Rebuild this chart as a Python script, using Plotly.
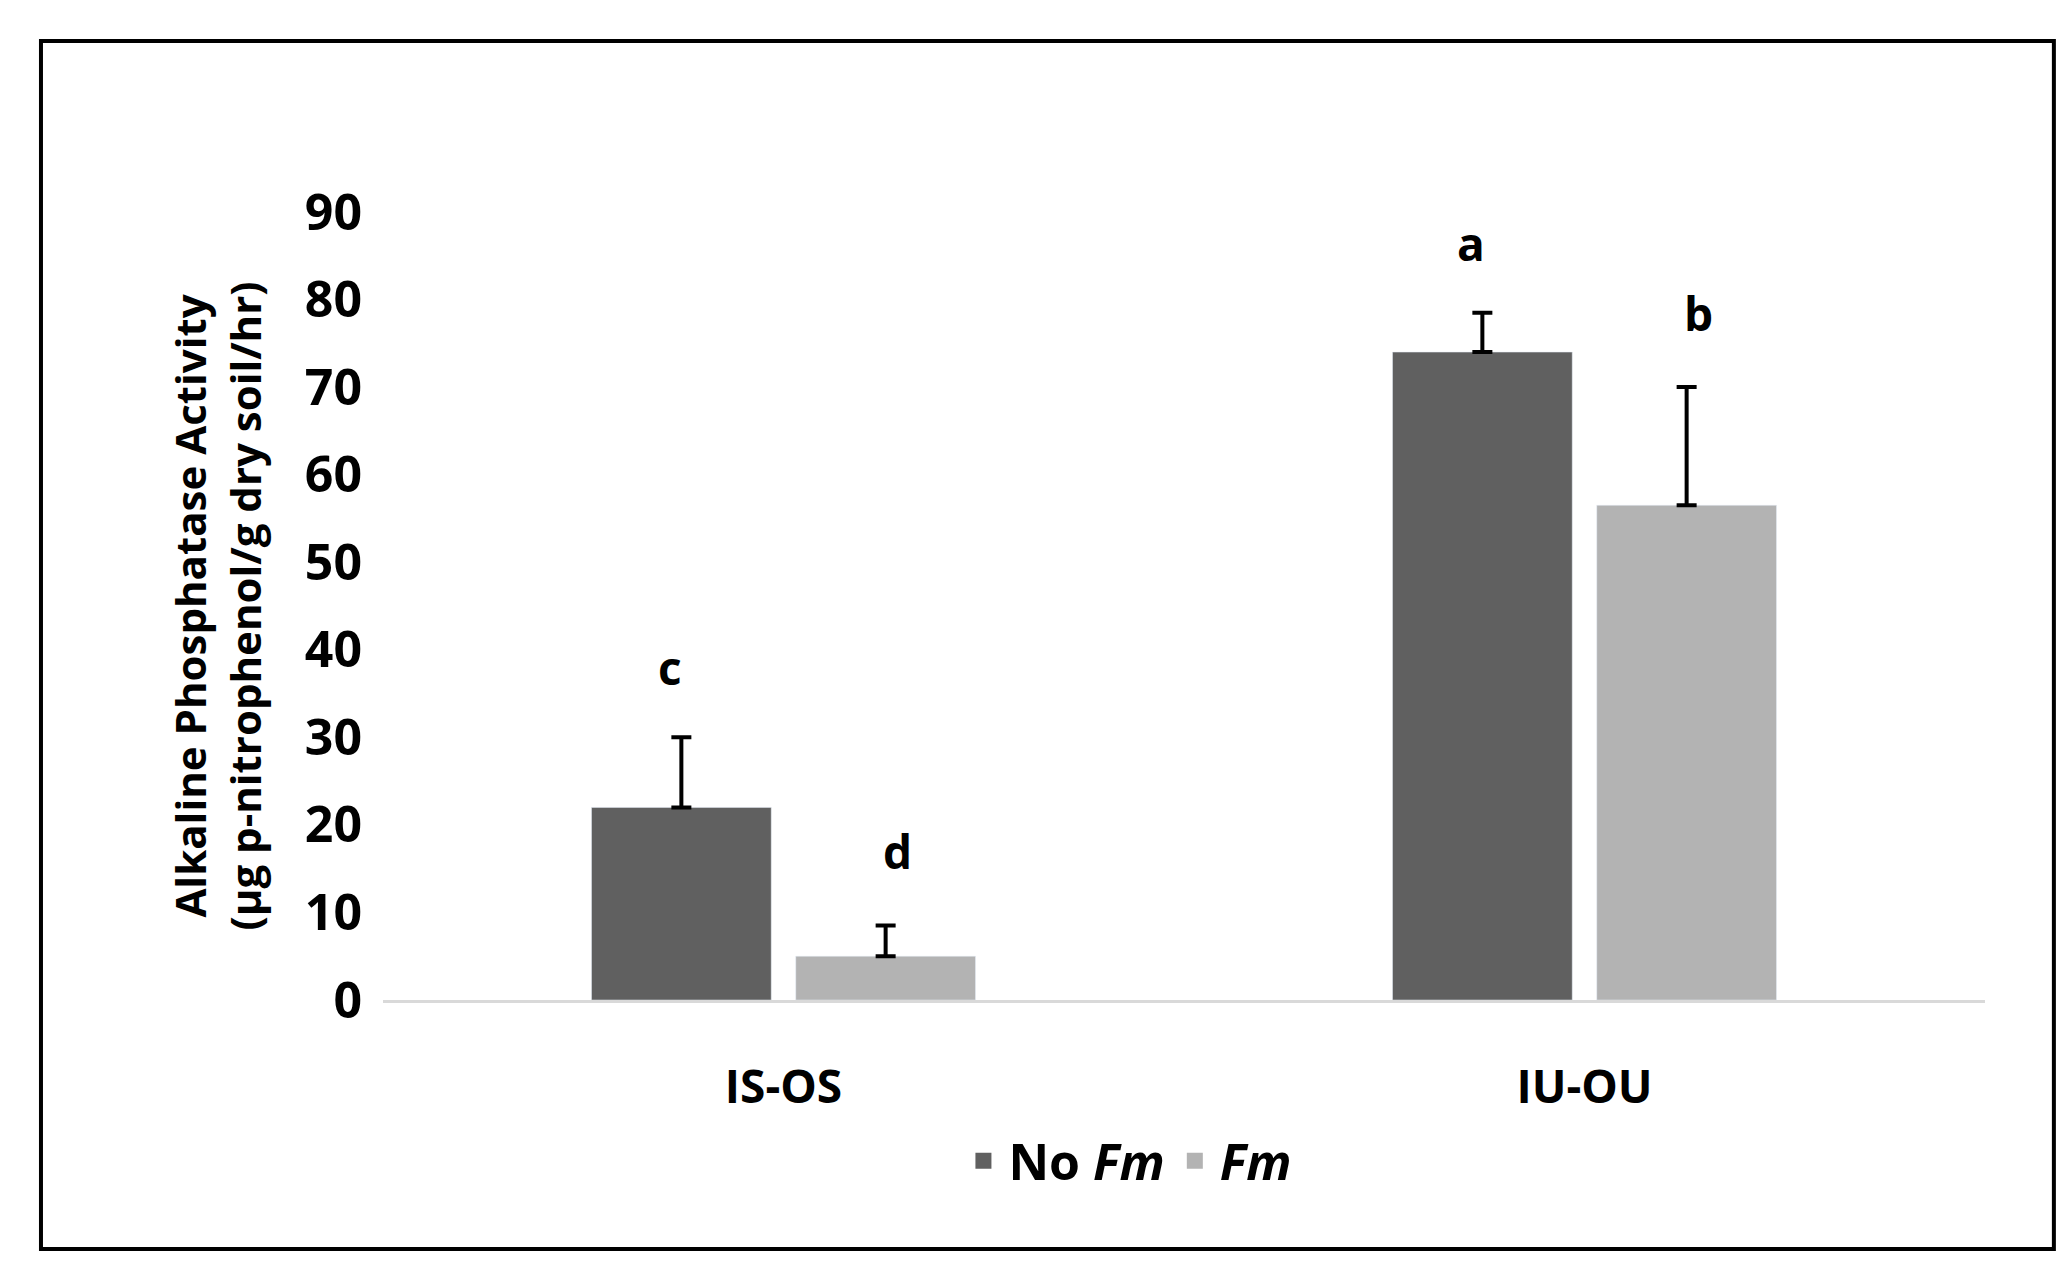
import plotly.graph_objects as go

categories = ["IS-OS", "IU-OU"]
no_fm = [22, 74]
no_fm_err = [8, 4.5]
fm = [5, 56.5]
fm_err = [3.5, 13.5]
no_fm_letters = ["c", "a"]
fm_letters = ["d", "b"]
y_ticks = [0, 10, 20, 30, 40, 50, 60, 70, 80, 90]

font = "Open Sans, sans-serif"
dark = "#606060"
light = "#b3b3b3"

fig = go.Figure()
fig.add_trace(go.Bar(
    x=categories, y=no_fm, name="No <i>Fm</i>", marker_color=dark, showlegend=False,
    error_y=dict(type="data", array=no_fm_err, arrayminus=[0, 0], symmetric=False,
                 color="black", thickness=4, width=10),
))
fig.add_trace(go.Bar(
    x=categories, y=fm, name="<i>Fm</i>", marker_color=light, showlegend=False,
    error_y=dict(type="data", array=fm_err, arrayminus=[0, 0], symmetric=False,
                 color="black", thickness=4, width=10),
))
# legend entries with larger square swatches
for name, col in [("<b>No <i>Fm</i></b>", dark), ("<b><i>Fm</i></b>", light)]:
    fig.add_trace(go.Scatter(x=[None], y=[None], mode="markers", name=name,
                             marker=dict(symbol="square", size=34, color=col)))

# significance letters above each bar
for cat, v, e, lab in zip(categories, no_fm, no_fm_err, no_fm_letters):
    fig.add_annotation(x=cat, y=v + e + 8, text=f"<b>{lab}</b>", showarrow=False,
                       xshift=-114, font=dict(size=46, family=font, color="black"))
for cat, v, e, lab in zip(categories, fm, fm_err, fm_letters):
    fig.add_annotation(x=cat, y=v + e + 8.5, text=f"<b>{lab}</b>", showarrow=False,
                       xshift=114, font=dict(size=46, family=font, color="black"))

# frame around the figure
fig.add_shape(type="rect", xref="paper", yref="paper",
              x0=-0.2135, x1=1.043, y0=-0.316, y1=1.217,
              line=dict(color="black", width=4))

fig.update_layout(
    width=2066, height=1265,
    margin=dict(l=375, r=89, t=204, b=273),
    plot_bgcolor="white", paper_bgcolor="white",
    barmode="group", bargap=0.49, bargroupgap=0.12,
    font=dict(family=font, color="black"),
    showlegend=True,
    legend=dict(orientation="h", x=0.465, xanchor="center", y=-0.204, yanchor="middle",
                font=dict(size=50, family=font, color="black"), itemwidth=40,
                traceorder="normal"),
)
fig.update_xaxes(showline=True, linecolor="#d9d9d9", linewidth=3,
                 tickvals=categories, ticktext=[f"<b>{c}</b>" for c in categories],
                 tickfont=dict(size=46, family=font, color="black"),
                 ticks="", ticklabelstandoff=45)
fig.update_yaxes(range=[0, 90], tickvals=y_ticks, ticktext=[f"<b>{t}</b>" for t in y_ticks],
                 showgrid=False, zeroline=False,
                 tickfont=dict(size=50, family=font, color="black"),
                 ticklabelstandoff=20,
                 title=dict(text="<b>Alkaline Phosphatase Activity<br>(µg p-nitrophenol/g dry soil/hr)</b>",
                            font=dict(size=42, family=font, color="black"), standoff=30))

fig.write_html("out.html")
